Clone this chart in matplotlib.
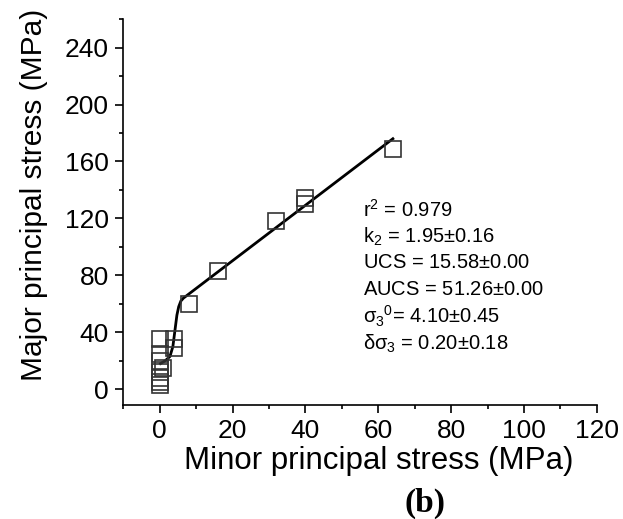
import numpy as np
import matplotlib.pyplot as plt
from matplotlib.ticker import MultipleLocator

plt.rcParams['font.family'] = ['Liberation Sans', 'DejaVu Sans']
plt.rcParams['mathtext.fontset'] = 'custom'
plt.rcParams['mathtext.rm'] = 'Liberation Sans'
plt.rcParams['mathtext.it'] = 'Liberation Sans'
plt.rcParams['mathtext.bf'] = 'Liberation Sans:bold'

# measured points (minor, major principal stress)
sigma3 = [0, 0, 0, 0, 0, 0, 0, 1, 4, 4, 8, 16, 32, 40, 40, 64]
sigma1 = [35, 25, 20, 12, 8, 5, 3, 15, 35, 29, 60, 83, 118, 130, 134, 169]

# fitted curve
fit_x = [0.2, 1.5, 2.8, 3.6, 4.2, 4.7, 5.2, 5.8, 6.5, 64]
fit_y = [18, 20, 23, 30, 42, 52, 58, 62, 64, 176]

stats = [r"r$^{2}$ = 0.979",
         r"k$_{2}$ = 1.95$\pm$0.16",
         r"UCS = 15.58$\pm$0.00",
         r"AUCS = 51.26$\pm$0.00",
         r"$\sigma_{3}{}^{0}$= 4.10$\pm$0.45",
         r"$\delta\sigma_{3}$ = 0.20$\pm$0.18"]
stats_y = [121, 102.6, 85, 66, 46.5, 27.5]

fig = plt.figure(figsize=(6.23, 5.19), dpi=100)
ax = fig.add_axes([0.198, 0.220, 0.760, 0.743])

ax.plot(fit_x, fit_y, color='black', lw=2)
ax.plot(sigma3, sigma1, 's', ms=11.5, mfc='none', mec='#333333', mew=1.2)

for s, y in zip(stats, stats_y):
    ax.text(55.8, y, s, fontsize=14.5, va='baseline', ha='left')

ax.set_xlim(-10, 120)
ax.set_ylim(-11, 260)
ax.xaxis.set_major_locator(MultipleLocator(20))
ax.xaxis.set_minor_locator(MultipleLocator(10))
ax.yaxis.set_major_locator(MultipleLocator(40))
ax.yaxis.set_minor_locator(MultipleLocator(20))
ax.set_yticks(np.arange(0, 241, 40))
ax.tick_params(which='major', length=5.5, width=1.2, labelsize=19, direction='out')
ax.tick_params(which='minor', length=3, width=1.2, direction='out')
ax.tick_params(axis='x', pad=5)
ax.tick_params(axis='y', pad=5)
for sp in ['top', 'right']:
    ax.spines[sp].set_visible(False)
for sp in ['left', 'bottom']:
    ax.spines[sp].set_linewidth(1.2)

ax.set_xlabel("Minor principal stress (MPa)", fontsize=22.5, labelpad=2)
ax.set_ylabel("Major principal stress (MPa)", fontsize=21.5, labelpad=12)
ax.xaxis.label.set_x(0.539)
ax.yaxis.label.set_y(0.544)

fig.text(0.682, 0.0135, "(b)", fontsize=24, fontweight='bold',
         family='Liberation Serif', ha='center', va='baseline')

fig.savefig("out.png", dpi=100)
